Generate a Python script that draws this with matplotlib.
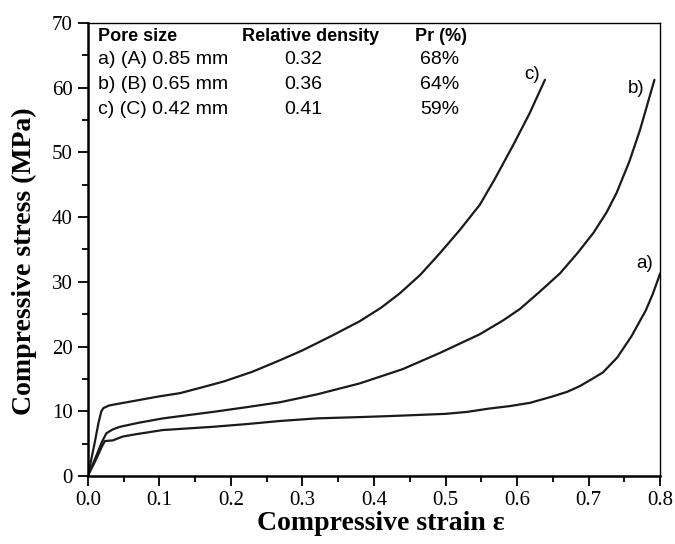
import matplotlib as mpl
import matplotlib.pyplot as plt
from matplotlib.ticker import MultipleLocator, FormatStrFormatter

mpl.use("Agg")

# stress-strain curves
strain_a = [0, 0.01, 0.02, 0.024, 0.035, 0.049, 0.07, 0.105, 0.14, 0.175, 0.22,
            0.269, 0.32, 0.38, 0.42, 0.455, 0.5, 0.53, 0.56, 0.59, 0.618, 0.65,
            0.67, 0.688, 0.705, 0.72, 0.74, 0.76, 0.78, 0.79, 0.8]
stress_a = [0, 2.2, 4.6, 5.4, 5.5, 6.1, 6.5, 7.1, 7.35, 7.6, 8.0,
            8.5, 8.9, 9.1, 9.25, 9.4, 9.6, 9.9, 10.4, 10.8, 11.3, 12.3,
            13.0, 13.9, 15.0, 16.0, 18.3, 21.6, 25.6, 28.2, 31.3]

strain_b = [0, 0.01, 0.02, 0.026, 0.035, 0.045, 0.07, 0.105, 0.14, 0.175, 0.22,
            0.269, 0.32, 0.38, 0.44, 0.492, 0.548, 0.58, 0.604, 0.63, 0.66,
            0.685, 0.707, 0.725, 0.739, 0.757, 0.772, 0.792]
stress_b = [0, 2.6, 5.3, 6.6, 7.2, 7.6, 8.2, 8.9, 9.4, 9.9, 10.6,
            11.4, 12.6, 14.3, 16.5, 19.0, 21.9, 24.0, 25.8, 28.3, 31.3,
            34.5, 37.6, 40.7, 43.7, 48.6, 53.5, 61.2]

strain_c = [0, 0.005, 0.01, 0.015, 0.019, 0.022, 0.03, 0.045, 0.07, 0.1, 0.129,
            0.16, 0.19, 0.23, 0.269, 0.30, 0.34, 0.38, 0.41, 0.436, 0.465,
            0.492, 0.52, 0.548, 0.569, 0.595, 0.617, 0.639]
stress_c = [0, 2.6, 5.3, 8.2, 10.0, 10.5, 10.9, 11.2, 11.7, 12.3, 12.8,
            13.7, 14.6, 16.1, 17.9, 19.4, 21.6, 23.9, 26.0, 28.2, 31.1,
            34.4, 38.0, 41.9, 45.9, 51.2, 55.9, 61.2]

curve_labels = ["a)", "b)", "c)"]
label_pos = [(0.778, 32.9), (0.766, 59.8), (0.621, 62.0)]

table_header = ["Pore size", "Relative density", "Pr (%)"]
pore_size = ["a) (A) 0.85 mm", "b) (B) 0.65 mm", "c) (C) 0.42 mm"]
rel_density = ["0.32", "0.36", "0.41"]
porosity = ["68%", "64%", "59%"]

SERIF = "Liberation Serif"
SANS = "Liberation Sans"

fig = plt.figure(figsize=(6.75, 5.44), dpi=100)
ax = fig.add_axes([0.130, 0.125, 0.848, 0.833])

for xs, ys in [(strain_a, stress_a), (strain_b, stress_b), (strain_c, stress_c)]:
    ax.plot(xs, ys, color="#1a1a1a", linewidth=1.6,
            solid_joinstyle="round", solid_capstyle="round")

for lab, (x, y) in zip(curve_labels, label_pos):
    ax.text(x, y, lab, family=SANS, fontsize=13.5, ha="center", va="center")

# inset table
rows_y = [64.3, 60.5, 56.6]
ax.text(0.014, 67.9, table_header[0], family=SANS, fontsize=13,
        fontweight="bold", ha="left", va="center")
ax.text(0.312, 67.9, table_header[1], family=SANS, fontsize=13,
        fontweight="bold", ha="center", va="center")
ax.text(0.494, 67.9, table_header[2], family=SANS, fontsize=13,
        fontweight="bold", ha="center", va="center")
for y, ps, rd, pr in zip(rows_y, pore_size, rel_density, porosity):
    ax.text(0.014, y, ps, family=SANS, fontsize=14, ha="left", va="center")
    ax.text(0.301, y, rd, family=SANS, fontsize=14, ha="center", va="center")
    ax.text(0.492, y, pr, family=SANS, fontsize=14, ha="center", va="center")

ax.set_xlim(0, 0.8)
ax.set_ylim(0, 70)
ax.xaxis.set_major_locator(MultipleLocator(0.1))
ax.xaxis.set_minor_locator(MultipleLocator(0.05))
ax.yaxis.set_major_locator(MultipleLocator(10))
ax.yaxis.set_minor_locator(MultipleLocator(5))
ax.xaxis.set_major_formatter(FormatStrFormatter("%.1f"))

ax.tick_params(which="major", direction="out", length=7, width=1.3,
               labelsize=15, pad=4)
ax.tick_params(which="minor", direction="out", length=4, width=1.3)
for lbl in ax.get_xticklabels() + ax.get_yticklabels():
    lbl.set_family(SERIF)

ax.spines["left"].set_linewidth(1.8)
ax.spines["bottom"].set_linewidth(1.8)
ax.spines["top"].set_linewidth(1.0)
ax.spines["right"].set_linewidth(1.0)

ax.set_xlabel("Compressive strain ε", family=SERIF, fontsize=20,
              fontweight="bold")
ax.set_ylabel("Compressive stress (MPa)", family=SERIF, fontsize=20,
              fontweight="bold")
ax.xaxis.set_label_coords(0.512, -0.077)
ax.yaxis.set_label_coords(-0.088, 0.475)

fig.savefig("out.png", dpi=100)
